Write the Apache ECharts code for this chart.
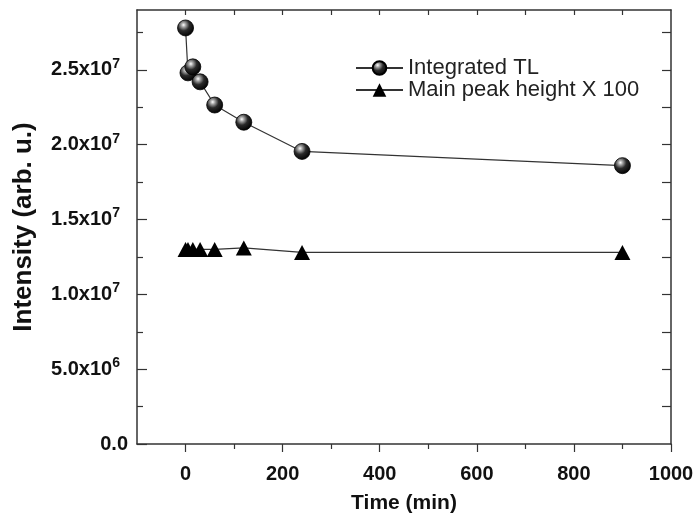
<!DOCTYPE html>
<html>
<head>
<meta charset="utf-8">
<script src="https://cdn.jsdelivr.net/npm/echarts@6/dist/echarts.min.js"></script>
<style>
html,body{margin:0;padding:0;background:#fff;}
#chart{width:698px;height:526px;}
</style>
</head>
<body>
<div id="chart"></div>
<script>
// ---- data ----
const times = [0, 5, 15, 30, 60, 120, 240, 900];
const integratedTL = [2.78e7, 2.48e7, 2.52e7, 2.42e7, 2.265e7, 2.15e7, 1.955e7, 1.86e7];
const mainPeakX100 = [1.30e7, 1.30e7, 1.30e7, 1.30e7, 1.30e7, 1.31e7, 1.28e7, 1.28e7];
const seriesNames = ['Integrated TL', 'Main peak height X 100'];

// ---- axes / ticks ----
const xMin = -100, xMax = 1000;
const yMin = 0, yMax = 2.9e7;
const xLabelValues = [0, 200, 400, 600, 800, 1000];
const xLabelTexts = ['0', '200', '400', '600', '800', '1000'];
const xMinorValues = [100, 300, 500, 700, 900];
const xTopValues = [0, 100, 200, 300, 400, 500, 600, 700, 800, 900];
const yLabelValues = [0, 5e6, 1e7, 1.5e7, 2e7, 2.5e7];
const yMantissa = ['0.0', '5.0', '1.0', '1.5', '2.0', '2.5'];
const yExponent = ['', '6', '7', '7', '7', '7'];
const yMinorValues = [2.5e6, 7.5e6, 1.25e7, 1.75e7, 2.25e7, 2.75e7];
const yRightValues = [2.5e6, 5e6, 7.5e6, 1e7, 1.25e7, 1.5e7, 1.75e7, 2e7, 2.25e7, 2.5e7, 2.75e7];

const FONT = 'Liberation Sans, Arial, Helvetica, sans-serif';
const AX = '#333';

const chart = echarts.init(document.getElementById('chart'), null, {renderer: 'canvas'});

const sphere = {
  type: 'radial', x: 0.38, y: 0.32, r: 0.7,
  colorStops: [
    {offset: 0, color: '#ffffff'},
    {offset: 0.2, color: '#a0a0a0'},
    {offset: 0.5, color: '#2a2a2a'},
    {offset: 1, color: '#000000'}
  ]
};

const baseX = {
  type: 'value', min: xMin, max: xMax, gridIndex: 0,
  splitLine: {show: false}
};
const baseY = {
  type: 'value', min: yMin, max: yMax, gridIndex: 0,
  splitLine: {show: false}
};

function xLabel(v) {
  const i = xLabelValues.indexOf(v);
  return i < 0 ? '' : xLabelTexts[i];
}
function yLabel(v) {
  const i = yLabelValues.indexOf(v);
  if (i < 0) return '';
  if (!yExponent[i]) return '{m|' + yMantissa[i] + '}';
  return '{m|' + yMantissa[i] + 'x10}{e|' + yExponent[i] + '}';
}

const option = {
  backgroundColor: '#ffffff',
  animation: false,
  textStyle: {fontFamily: FONT},
  grid: {left: 137, right: 27, top: 10, bottom: 82, containLabel: false},
  legend: {
    orient: 'vertical', left: 355, top: 57, padding: 0,
    itemWidth: 47, itemHeight: 17, itemGap: 0,
    data: seriesNames,
    textStyle: {fontFamily: FONT, fontSize: 22, lineHeight: 20, color: '#222'}
  },
  xAxis: [
    Object.assign({}, baseX, {
      position: 'bottom',
      name: 'Time (min)', nameLocation: 'middle', nameGap: 49,
      nameTextStyle: {fontFamily: FONT, fontSize: 21, fontWeight: 'bold', color: '#111'},
      axisLine: {show: true, onZero: false, lineStyle: {color: AX, width: 1.5}},
      axisTick: {show: true, inside: false, length: 8, customValues: xLabelValues, lineStyle: {color: AX, width: 1.2}},
      axisLabel: {show: true, margin: 20, customValues: xLabelValues, formatter: xLabel, fontFamily: FONT, fontSize: 20, fontWeight: 'bold', color: '#111'}
    }),
    Object.assign({}, baseX, {
      position: 'bottom',
      axisLine: {show: false, onZero: false},
      axisTick: {show: true, inside: false, length: 5, customValues: xMinorValues, lineStyle: {color: AX, width: 1.2}},
      axisLabel: {show: false}
    }),
    Object.assign({}, baseX, {
      position: 'top',
      axisLine: {show: true, onZero: false, lineStyle: {color: AX, width: 1.5}},
      axisTick: {show: true, inside: true, length: 5, customValues: xTopValues, lineStyle: {color: AX, width: 1.2}},
      axisLabel: {show: false}
    })
  ],
  yAxis: [
    Object.assign({}, baseY, {
      position: 'left',
      name: 'Intensity (arb. u.)', nameLocation: 'middle', nameGap: 100,
      nameTextStyle: {fontFamily: FONT, fontSize: 26, fontWeight: 'bold', color: '#111'},
      axisLine: {show: true, onZero: false, lineStyle: {color: AX, width: 1.5}},
      axisTick: {show: true, inside: true, length: 10, customValues: yLabelValues, lineStyle: {color: AX, width: 1.2}},
      axisLabel: {
        show: true, margin: 9, customValues: yLabelValues,
        formatter: yLabel,
        rich: {
          m: {fontFamily: FONT, fontSize: 20, fontWeight: 'bold', color: '#111'},
          e: {fontFamily: FONT, fontSize: 14, fontWeight: 'bold', color: '#111', padding: [0, 8, 12, 0]}
        }
      }
    }),
    Object.assign({}, baseY, {
      position: 'left',
      axisLine: {show: false, onZero: false},
      axisTick: {show: true, inside: true, length: 6, customValues: yMinorValues, lineStyle: {color: AX, width: 1.2}},
      axisLabel: {show: false}
    }),
    Object.assign({}, baseY, {
      position: 'right',
      axisLine: {show: true, onZero: false, lineStyle: {color: AX, width: 1.5}},
      axisTick: {show: true, inside: true, length: 9, customValues: yRightValues, lineStyle: {color: AX, width: 1.2}},
      axisLabel: {show: false}
    })
  ],
  series: [
    {
      name: seriesNames[0], type: 'line', xAxisIndex: 0, yAxisIndex: 0,
      data: times.map((t, i) => [t, integratedTL[i]]),
      symbol: 'circle', symbolSize: 16,
      lineStyle: {color: '#333', width: 1.2},
      itemStyle: {color: sphere, borderColor: '#000', borderWidth: 0.8},
      z: 3
    },
    {
      name: seriesNames[1], type: 'line', xAxisIndex: 0, yAxisIndex: 0,
      data: times.map((t, i) => [t, mainPeakX100[i]]),
      symbol: 'triangle', symbolSize: [16, 15],
      lineStyle: {color: '#333', width: 1.2},
      itemStyle: {color: '#000', borderColor: '#000', borderWidth: 0},
      z: 3
    }
  ]
};
chart.setOption(option);
</script>
</body>
</html>
